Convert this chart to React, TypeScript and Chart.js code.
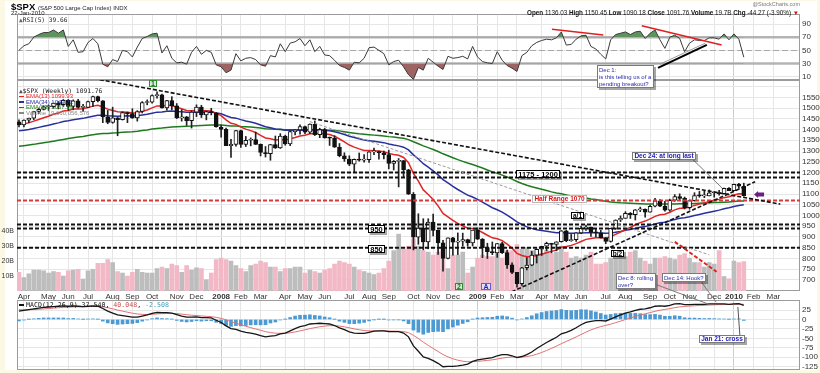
import React, { useEffect, useRef } from "react";
import { Chart, registerables } from "chart.js";

Chart.register(...registerables);

// ---------------- weekly data, 30-Mar-2007 .. 22-Jan-2010 (index 0..147) ----------------
const opens = [
  1436, 1421, 1444, 1453, 1484, 1494, 1506, 1506, 1523, 1516,
  1536, 1508, 1533, 1503, 1503, 1530, 1553, 1534, 1459, 1433,
  1454, 1446, 1479, 1474, 1454, 1484, 1526, 1527, 1558, 1562,
  1501, 1535, 1510, 1454, 1459, 1441, 1481, 1505, 1468, 1484,
  1478, 1412, 1401, 1325, 1331, 1395, 1331, 1350, 1353, 1331,
  1293, 1288, 1330, 1315, 1370, 1333, 1390, 1398, 1414, 1388,
  1425, 1376, 1400, 1361, 1360, 1318, 1278, 1263, 1239, 1261,
  1258, 1260, 1296, 1298, 1292, 1283, 1242, 1252, 1255, 1213,
  1099, 899, 941, 877, 969, 931, 873, 800, 896, 876,
  880, 888, 873, 932, 890, 850, 832, 826, 869, 827,
  770, 735, 683, 757, 769, 816, 843, 857, 870, 866,
  878, 929, 883, 887, 919, 940, 946, 921, 919, 896,
  879, 940, 979, 987, 1010, 1004, 1026, 1029, 1016, 1043,
  1068, 1044, 1025, 1071, 1088, 1080, 1036, 1069, 1093, 1091,
  1091, 1106, 1106, 1102, 1126, 1115, 1145, 1136.03,
];
const highs = [
  1445, 1445, 1453, 1485, 1499, 1510, 1514, 1523, 1530, 1540,
  1540, 1538, 1540, 1517, 1532, 1556, 1556, 1535, 1489, 1504,
  1456, 1483, 1481, 1497, 1488, 1530, 1538, 1561, 1576, 1565,
  1536, 1553, 1521, 1493, 1461, 1488, 1515, 1513, 1486, 1499,
  1479, 1421, 1407, 1355, 1396, 1397, 1368, 1361, 1388, 1333,
  1321, 1331, 1370, 1381, 1374, 1395, 1400, 1422, 1416, 1426,
  1440, 1406, 1406, 1365, 1371, 1335, 1292, 1278, 1263, 1291,
  1284, 1297, 1314, 1300, 1300, 1304, 1256, 1265, 1256, 1215,
  1107, 1008, 985, 985, 1007, 932, 885, 896, 899, 919,
  918, 890, 932, 943, 893, 871, 877, 870, 876, 839,
  780, 736, 759, 804, 833, 845, 857, 876, 871, 878,
  930, 931, 912, 920, 951, 956, 946, 936, 931, 898,
  941, 980, 998, 1018, 1014, 1028, 1039, 1031, 1049, 1080,
  1074, 1066, 1076, 1097, 1101, 1086, 1072, 1106, 1112, 1113,
  1119, 1110, 1117, 1128, 1130, 1146, 1150, 1150.45,
];
const lows = [
  1412, 1412, 1432, 1446, 1474, 1491, 1489, 1500, 1496, 1508,
  1490, 1492, 1500, 1484, 1502, 1506, 1529, 1432, 1427, 1429,
  1371, 1444, 1432, 1452, 1439, 1477, 1515, 1523, 1546, 1500,
  1490, 1492, 1451, 1439, 1419, 1407, 1460, 1456, 1445, 1468,
  1411, 1365, 1325, 1270, 1323, 1317, 1321, 1324, 1330, 1277,
  1272, 1257, 1312, 1312, 1327, 1325, 1375, 1379, 1381, 1381,
  1372, 1362, 1360, 1326, 1317, 1273, 1252, 1232, 1200, 1253,
  1248, 1247, 1283, 1262, 1263, 1217, 1212, 1133, 1180, 1098,
  840, 866, 840, 845, 905, 819, 741, 798, 816, 818,
  857, 857, 858, 888, 804, 800, 818, 805, 823, 754,
  729, 667, 675, 747, 766, 779, 814, 836, 826, 836,
  876, 878, 880, 879, 916, 931, 903, 900, 895, 869,
  876, 935, 972, 987, 986, 979, 1018, 992, 1016, 1040,
  1041, 1020, 1020, 1066, 1074, 1030, 1029, 1067, 1085, 1083,
  1091, 1085, 1095, 1099, 1115, 1115, 1127, 1090.18,
];
const closes = [
  1421, 1444, 1453, 1484, 1494, 1506, 1506, 1523, 1516, 1536,
  1508, 1533, 1503, 1503, 1530, 1553, 1534, 1459, 1433, 1454,
  1446, 1479, 1474, 1454, 1484, 1526, 1527, 1558, 1562, 1501,
  1535, 1510, 1454, 1459, 1441, 1481, 1505, 1468, 1484, 1478,
  1412, 1401, 1325, 1331, 1395, 1331, 1350, 1353, 1331, 1293,
  1288, 1330, 1315, 1370, 1333, 1390, 1398, 1414, 1388, 1425,
  1376, 1400, 1361, 1360, 1318, 1278, 1263, 1239, 1261, 1258,
  1260, 1296, 1298, 1292, 1283, 1242, 1252, 1255, 1213, 1099,
  899, 941, 877, 969, 931, 873, 800, 896, 876, 880,
  888, 873, 932, 890, 850, 832, 826, 869, 827, 770,
  735, 683, 757, 769, 816, 843, 857, 870, 866, 878,
  929, 883, 887, 919, 940, 946, 921, 919, 896, 879,
  940, 979, 987, 1010, 1004, 1026, 1029, 1016, 1043, 1068,
  1044, 1025, 1071, 1088, 1080, 1036, 1069, 1093, 1091, 1091,
  1106, 1106, 1102, 1126, 1115, 1145, 1136, 1091.76,
];
// weekly volume, billions of shares
const volumesB = [
  12.5, 9, 11.5, 14, 14, 13.5, 12, 13, 12.5, 10,
  13.5, 14, 14.5, 8, 13.5, 14.5, 18.5, 18.5, 21, 19,
  13, 12, 10, 12.5, 14.5, 12.5, 12, 12, 15, 16,
  15, 18, 17, 12.5, 17, 14, 15.5, 15, 7.5, 12,
  21, 22, 21, 20, 17, 15, 13, 17, 18, 20,
  19, 16, 16, 13, 15, 15, 16, 16, 12, 14,
  13, 12, 14, 15, 18, 20, 19, 18, 16, 14,
  13, 12, 11, 12, 15, 20, 27, 38, 28, 30,
  35, 30, 27, 26, 24, 26, 28, 15, 24, 24,
  26, 12, 16, 22, 24, 23, 23, 25, 22, 27,
  27, 31, 28, 29, 27, 25, 25, 27, 25, 26,
  30, 26, 22, 23, 22, 24, 26, 18, 18, 19,
  22, 22, 23, 23, 26, 27, 22, 20, 18, 22,
  22, 23, 22, 21, 24, 25, 22, 19, 19, 16,
  19, 18, 27, 9.7, 8.2, 20, 19, 19.66,
];
const ema13 = [
  1424, 1427, 1431, 1439, 1447, 1455, 1462, 1471, 1477, 1486,
  1489, 1495, 1496, 1497, 1502, 1509, 1513, 1505, 1495, 1489,
  1483, 1482, 1481, 1477, 1478, 1485, 1491, 1501, 1510, 1509,
  1513, 1512, 1504, 1497, 1489, 1488, 1490, 1487, 1487, 1486,
  1475, 1465, 1445, 1429, 1424, 1411, 1402, 1395, 1386, 1373,
  1361, 1357, 1351, 1354, 1351, 1357, 1363, 1370, 1373, 1380,
  1380, 1383, 1380, 1377, 1369, 1356, 1343, 1328, 1318, 1310,
  1303, 1302, 1301, 1300, 1297, 1289, 1284, 1280, 1270, 1246,
  1196, 1160, 1119, 1098, 1074, 1045, 1010, 994, 977, 963,
  952, 941, 940, 933, 921, 908, 896, 892, 883, 867,
  848, 824, 814, 808, 809, 814, 820, 827, 833, 839,
  852, 856, 861, 869, 879, 889, 893, 897, 897, 894,
  901, 912, 923, 935, 945, 957, 967, 974, 984, 996,
  1003, 1006, 1015, 1026, 1034, 1034, 1039, 1047, 1053, 1058,
  1065, 1071, 1075, 1083, 1087, 1095, 1101, 1099.93,
];
const ema34 = [
  1394, 1397, 1400, 1405, 1410, 1415, 1420, 1426, 1431, 1437,
  1441, 1446, 1449, 1452, 1457, 1462, 1466, 1466, 1464, 1463,
  1462, 1463, 1464, 1463, 1464, 1468, 1471, 1476, 1481, 1482,
  1485, 1486, 1484, 1483, 1481, 1481, 1482, 1481, 1481, 1481,
  1477, 1473, 1464, 1456, 1453, 1446, 1440, 1435, 1429, 1421,
  1413, 1408, 1403, 1401, 1397, 1397, 1397, 1398, 1397, 1399,
  1398, 1398, 1396, 1394, 1390, 1384, 1377, 1369, 1363, 1357,
  1351, 1348, 1345, 1342, 1339, 1333, 1328, 1324, 1318, 1305,
  1282, 1263, 1241, 1225, 1208, 1189, 1167, 1152, 1136, 1121,
  1108, 1095, 1086, 1075, 1062, 1049, 1036, 1027, 1016, 1002,
  987, 970, 958, 947, 940, 934, 930, 927, 923, 920,
  921, 919, 917, 917, 918, 920, 920, 920, 919, 917,
  918, 922, 926, 931, 935, 940, 945, 949, 954, 961,
  966, 969, 975, 981, 987, 990, 994, 1000, 1005, 1010,
  1015, 1020, 1025, 1031, 1036, 1042, 1047, 1049.71,
];
const ema89 = [
  1322, 1325, 1328, 1331, 1335, 1339, 1342, 1346, 1350, 1354,
  1358, 1362, 1365, 1368, 1372, 1376, 1379, 1381, 1382, 1384,
  1385, 1387, 1389, 1390, 1392, 1395, 1398, 1402, 1405, 1407,
  1410, 1412, 1413, 1414, 1415, 1416, 1418, 1419, 1420, 1421,
  1421, 1421, 1419, 1417, 1416, 1414, 1413, 1412, 1410, 1407,
  1404, 1403, 1401, 1400, 1399, 1399, 1399, 1399, 1399, 1400,
  1399, 1399, 1398, 1397, 1395, 1393, 1390, 1386, 1383, 1380,
  1378, 1376, 1374, 1372, 1370, 1367, 1365, 1362, 1359, 1353,
  1343, 1334, 1324, 1316, 1307, 1298, 1287, 1278, 1269, 1260,
  1252, 1244, 1237, 1229, 1221, 1212, 1203, 1196, 1188, 1179,
  1169, 1158, 1149, 1141, 1134, 1128, 1122, 1116, 1110, 1105,
  1101, 1096, 1091, 1087, 1084, 1081, 1077, 1074, 1070, 1066,
  1063, 1061, 1059, 1058, 1057, 1056, 1055, 1054, 1054, 1054,
  1054, 1053, 1053, 1054, 1055, 1055, 1055, 1056, 1057, 1058,
  1059, 1060, 1061, 1062, 1063, 1065, 1067, 1067.59,
];
const rsi5 = [
  50, 57, 60, 70, 74, 77, 77, 81, 76, 81,
  56, 66, 47, 48, 62, 68, 60, 29, 25, 36,
  33, 50, 48, 40, 55, 68, 71, 75, 76, 46,
  57, 38, 31, 32, 29, 47, 56, 44, 50, 47,
  28, 25, 16, 20, 45, 34, 38, 39, 36, 28,
  26, 42, 40, 60, 48, 61, 63, 68, 57, 66,
  48, 56, 43, 42, 35, 27, 24, 20, 32, 31,
  38, 54, 55, 50, 45, 28, 33, 35, 25, 13,
  6, 24, 20, 38, 32, 26, 21, 41, 38, 39,
  41, 37, 56, 40, 33, 31, 30, 48, 35, 27,
  23, 18, 42, 47, 57, 62, 65, 67, 66, 69,
  78, 58, 59, 67, 72, 73, 56, 52, 44, 37,
  66, 74, 76, 78, 74, 78, 79, 68, 76, 81,
  66, 53, 70, 73, 68, 48, 61, 66, 65, 65,
  69, 69, 67, 75, 66, 75, 67, 39.66,
];
const macdLine = [
  22, 24, 26, 28, 30, 32, 33, 34, 35, 36,
  35, 36, 35, 34, 35, 36, 35, 29, 22, 17,
  12, 10, 8, 6, 6, 9, 12, 16, 19, 18,
  18, 17, 13, 9, 6, 6, 7, 5, 5, 4,
  -2, -8, -17, -24, -26, -31, -34, -36, -39, -43,
  -46, -44, -43, -38, -36, -30, -24, -19, -16, -12,
  -11, -10, -11, -12, -16, -22, -27, -33, -36, -37,
  -37, -34, -31, -30, -30, -32, -32, -32, -36, -46,
  -70, -84, -99, -103, -109, -116, -125, -124, -124, -123,
  -121, -118, -111, -107, -105, -103, -101, -96, -93, -93,
  -96, -101, -98, -93, -86, -77, -69, -61, -54, -47,
  -38, -34, -29, -22, -14, -8, -5, -3, -3, -4,
  1, 7, 12, 17, 20, 24, 27, 28, 31, 35,
  36, 35, 37, 41, 42, 39, 39, 40, 40, 40,
  41, 41, 41, 41, 40, 41, 42, 37.54,
];
const macdSignal = [
  26, 25.6, 25.7, 26.2, 26.9, 28, 29, 30, 31, 32,
  32.6, 33.3, 33.6, 33.7, 34, 34.4, 34.5, 33.4, 31.1, 28.3,
  25, 22, 19.2, 16.6, 14.5, 13.4, 13.1, 13.7, 14.8, 15.4,
  15.9, 16.1, 15.5, 14.2, 12.6, 11.3, 10.4, 9.3, 8.4, 7.5,
  5.6, 2.9, -1.1, -5.7, -9.8, -14, -18, -21.6, -25.1, -28.7,
  -32.2, -34.6, -36.3, -36.6, -36.5, -35.2, -33, -30.2, -27.4, -24.3,
  -21.6, -19.3, -17.6, -16.5, -16.4, -17.5, -19.4, -22.1, -24.9, -27.3,
  -29.2, -30.2, -30.4, -30.3, -30.2, -30.6, -30.9, -31.1, -32.1, -34.9,
  -41.9, -50.3, -60, -68.6, -76.7, -84.6, -92.7, -99, -104, -107.8,
  -110.4, -111.9, -111.7, -110.8, -109.6, -108.3, -106.8, -104.6, -102.3, -100.4,
  -99.5, -99.8, -99.4, -98.1, -95.7, -92, -87.4, -82.1, -76.5, -70.6,
  -64.1, -58.1, -52.3, -46.2, -39.8, -33.4, -27.7, -22.8, -18.8, -15.8,
  -12.4, -8.5, -4.4, -0.1, 3.9, 7.9, 11.7, 15, 18.2, 21.6,
  24.5, 26.6, 28.7, 31.2, 33.4, 34.5, 35.4, 36.3, 37, 37.6,
  38.3, 38.8, 39.3, 39.6, 39.7, 40, 40.4, 40.05,
];
const macdHist = [
  -4, -1.6, 0.3, 1.8, 3.1, 4, 4, 4, 4, 4,
  2.4, 2.7, 1.4, 0.3, 1, 1.6, 0.5, -4.4, -9.1, -11.3,
  -13, -12, -11.2, -10.6, -8.5, -4.4, -1.1, 2.3, 4.2, 2.6,
  2.1, 0.9, -2.5, -5.2, -6.6, -5.3, -3.4, -4.3, -3.4, -3.5,
  -7.6, -10.9, -15.9, -18.3, -16.2, -17, -16, -14.4, -13.9, -14.3,
  -13.8, -9.4, -6.7, -1.4, 0.5, 5.2, 9, 11.2, 11.4, 12.3,
  10.6, 9.3, 6.6, 4.5, 0.4, -4.5, -7.6, -10.9, -11.1, -9.7,
  -7.8, -3.8, -0.6, 0.3, 0.2, -1.4, -1.1, -0.9, -3.9, -11.1,
  -28.1, -33.7, -39, -34.4, -32.3, -31.4, -32.3, -25, -20, -15.2,
  -10.6, -6.1, 0.7, 3.8, 4.6, 5.3, 5.8, 8.6, 9.3, 7.4,
  3.5, -1.2, 1.4, 5.1, 9.7, 15, 18.4, 21.1, 22.5, 23.6,
  26.1, 24.1, 23.3, 24.2, 25.8, 25.4, 22.7, 19.8, 15.8, 11.8,
  13.4, 15.5, 16.4, 17.1, 16.1, 16.1, 15.3, 13, 12.8, 13.4,
  11.5, 8.4, 8.3, 9.8, 8.6, 4.5, 3.6, 3.7, 3, 2.4,
  2.7, 2.2, 1.7, 1.4, 0.3, 1, 1.6, -2.51,
];
const monthTickIdx = [
  1, 6, 10, 14, 19, 23, 27, 32, 36,
  41, 45, 49, 54, 58, 62, 67, 71, 75, 80, 84, 88,
  93, 97, 101, 106, 110, 114, 119, 123, 128, 132, 136, 141,
  145, 149, 153,
];
const monthTickLabels = [
  "Apr", "May", "Jun", "Jul", "Aug", "Sep", "Oct", "Nov", "Dec",
  "2008", "Feb", "Mar", "Apr", "May", "Jun", "Jul", "Aug", "Sep", "Oct", "Nov", "Dec",
  "2009", "Feb", "Mar", "Apr", "May", "Jun", "Jul", "Aug", "Sep", "Oct", "Nov", "Dec",
  "2010", "Feb", "Mar",
];
const priceTicks = [700, 750, 800, 850, 900, 950, 1000, 1050, 1100, 1150, 1200, 1250, 1300, 1350, 1400, 1450, 1500, 1550, 1600];
const volumeTicks = [10, 20, 30, 40];
const rsiTicks = [10, 30, 50, 70, 90];
const macdTicks = [25, 0, -25, -50, -75, -100, -125];
const levelLines = [1200, 1177, 958, 940, 850];
const halfRangeLevel = [1070];
const rsiBands = [70, 30];
const rsiMid = [50];

// ---------------- annotations (data coordinates: week index, value) ----------------
const priceTrends = [
  { from: [14, 1642], to: [154.4, 1053], tone: "black" },
  { from: [59, 1437], to: [140, 817], tone: "gray" },
  { from: [133, 878], to: [141.5, 738], tone: "red" },
  { from: [95.5, 599], to: [149.3, 1157], tone: "black" },
];
const priceLeaders = [
  { from: [136.1, 1273], to: [142.6, 1128] },
  { from: [129.4, 677], to: [139.8, 588] },
  { from: [138.1, 700], to: [141.4, 597] },
];
const priceNotes = [
  { lines: ["1175 - 1200"], at: [105.2, 1195], kind: "level" },
  { lines: ["Half Range 1070"], at: [109.7, 1077], kind: "red" },
  { lines: ["950"], at: [72.5, 939], kind: "level" },
  { lines: ["850"], at: [72.5, 846], kind: "level" },
  { lines: ["a/1"], at: [113.2, 1002], kind: "small" },
  { lines: ["b/2"], at: [121.3, 823], kind: "small" },
  { lines: ["1"], at: [27.2, 1614], kind: "green" },
  { lines: ["2"], at: [89.2, 670], kind: "green" },
  { lines: ["A"], at: [94.8, 670], kind: "blue" },
  { lines: ["Dec 24: at long last"], at: [130.8, 1277], kind: "call" },
  { lines: ["Dec 8: rolling", "over?"], at: [125.2, 697], kind: "note" },
  { lines: ["Dec 14: Hook?"], at: [134.9, 713], kind: "note" },
  { lines: ["Dec 1:", "is this telling us of a", "pending breakout?"], at: [123.1, 1649], kind: "note" },
];
const arrowAt = [150.1, 1098];
const rsiTrends = [
  { from: [108.1, 82], to: [118.5, 73.3], color: "#e02020", width: 1.6 },
  { from: [126.3, 87.4], to: [142.5, 58.2], color: "#e02020", width: 1.6 },
  { from: [130, 29], to: [139.2, 61], color: "#9a9a9a", width: 1 },
  { from: [129.6, 23.3], to: [139.5, 58.2], color: "#000", width: 2 },
];
const macdNote = { lines: ["Jan 21: cross"], at: [142.5, -51], leaderFrom: [146.2, -41], leaderTo: [145.8, 33] };

// ---------------- layout ----------------
const W = 820;
const H = 373;
const LEFT = 17;
const RIGHT_AXIS = 20;
const RSI_TOP = 14;
const RSI_BOTTOM = 80;
const PRICE_TOP = 80;
const PRICE_BOTTOM = 291;
const XLABEL_H = 9;
const MACD_TOP = 300;
const MACD_BOTTOM = 370;
const X_MIN = -0.4;
const X_MAX = 158.4;
const SANS = '"Liberation Sans", Arial, Helvetica, sans-serif';
const MONO = '"DejaVu Sans Mono", "Liberation Mono", monospace';
const PINK = "#f2b8c5";
const GRAY = "#bdbdbd";

const yearIdx = new Set(monthTickIdx.filter((_, k) => /^\d{4}$/.test(monthTickLabels[k])));
const pts = (arr: number[]) => arr.map((v, i) => ({ x: i, y: v }));

const fixW = (w: number) => (s: any) => {
  s.width = w;
  s.paddingTop = 0;
  s.paddingBottom = 0;
};
const fixH = (h: number) => (s: any) => {
  s.height = h;
  s.paddingLeft = 0;
  s.paddingRight = 0;
};

function xScale(showLabels: boolean) {
  return {
    type: "linear",
    min: X_MIN,
    max: X_MAX,
    offset: false,
    afterBuildTicks: (s: any) => {
      s.ticks = monthTickIdx.map((v) => ({ value: v }));
    },
    ticks: {
      display: showLabels,
      autoSkip: false,
      maxRotation: 0,
      padding: 1,
      color: "#333",
      font: (c: any) => ({ size: 8, family: SANS, weight: c.tick && yearIdx.has(c.tick.value) ? "bold" : "normal" }),
      callback: (_v: any, k: number) => monthTickLabels[k],
    },
    grid: {
      offset: false,
      drawTicks: false,
      color: (c: any) => (c.tick && yearIdx.has(c.tick.value) ? "#cdcdcd" : "#e6e6e6"),
    },
    border: { display: false },
    afterFit: fixH(showLabels ? XLABEL_H : 0),
  };
}

function yRight(min: number, max: number, ticks: number[], label?: (v: number) => string) {
  return {
    type: "linear",
    position: "right",
    min,
    max,
    afterBuildTicks: (s: any) => {
      s.ticks = ticks.map((v) => ({ value: v }));
    },
    ticks: {
      autoSkip: false,
      padding: 2,
      color: "#333",
      font: { size: 8, family: SANS },
      callback: (v: number) => (label ? label(v) : String(v)),
    },
    grid: { drawTicks: false, color: "#e6e6e6" },
    border: { display: false },
    afterFit: fixW(RIGHT_AXIS),
  };
}

function frame(chart: any) {
  const { ctx, chartArea: a } = chart;
  ctx.save();
  ctx.strokeStyle = "#9c9c9c";
  ctx.lineWidth = 1;
  ctx.strokeRect(a.left + 0.5, a.top + 0.5, a.right - a.left - 1, a.bottom - a.top - 1);
  ctx.restore();
}

function seg(ctx: any, x1: number, y1: number, x2: number, y2: number, color: string, width: number, dash: number[]) {
  ctx.save();
  ctx.strokeStyle = color;
  ctx.lineWidth = width;
  ctx.setLineDash(dash);
  ctx.beginPath();
  ctx.moveTo(x1, y1);
  ctx.lineTo(x2, y2);
  ctx.stroke();
  ctx.restore();
}

const boxStyles: any = {
  level: { font: `bold 7.5px ${SANS}`, color: "#000", bg: "#fff", border: "#000", shadow: true, lh: 8, padX: 2, padY: 0, align: "center" },
  small: { font: `bold 6.5px ${SANS}`, color: "#000", bg: "#fff", border: "#000", shadow: true, lh: 7, padX: 1.5, padY: 0, align: "center" },
  red: { font: `bold 6.5px ${SANS}`, color: "#d41a1a", bg: "#fff", border: "#b8b8b8", shadow: false, lh: 8, padX: 2, padY: 0, align: "center" },
  green: { font: `bold 7px ${SANS}`, color: "#1d6f1d", bg: "#d6ecd6", border: "#2e8b2e", shadow: false, lh: 7, padX: 2, padY: 0, align: "center" },
  blue: { font: `bold 7px ${SANS}`, color: "#1f1fb8", bg: "#e2e2f6", border: "#6060d0", shadow: false, lh: 7, padX: 2, padY: 0, align: "center" },
  call: { font: `bold 6.5px ${SANS}`, color: "#1a1ab4", bg: "#fff", border: "#7a7a7a", shadow: true, lh: 8, padX: 2, padY: 0, align: "center" },
  note: { font: `6px ${SANS}`, color: "#2a2aa8", bg: "#fff", border: "#7a7a7a", shadow: true, lh: 7, padX: 2, padY: 1, align: "left" },
};

function drawBox(ctx: any, cx: number, cy: number, lines: string[], st: any) {
  ctx.save();
  ctx.font = st.font;
  const tw = Math.max(...lines.map((l) => ctx.measureText(l).width));
  const w = Math.ceil(tw + st.padX * 2);
  const h = Math.ceil(lines.length * st.lh + st.padY * 2);
  const x = Math.round(cx - w / 2);
  const y = Math.round(cy - h / 2);
  if (st.shadow) {
    ctx.fillStyle = "rgba(0,0,0,0.35)";
    ctx.fillRect(x + 2, y + 2, w, h);
  }
  ctx.fillStyle = st.bg;
  ctx.fillRect(x, y, w, h);
  ctx.strokeStyle = st.border;
  ctx.lineWidth = 1;
  ctx.strokeRect(x + 0.5, y + 0.5, w - 1, h - 1);
  ctx.fillStyle = st.color;
  ctx.textBaseline = "middle";
  ctx.textAlign = st.align;
  lines.forEach((l, k) => {
    ctx.fillText(l, st.align === "left" ? x + st.padX : x + w / 2, y + st.padY + st.lh * (k + 0.5) + 0.5);
  });
  ctx.restore();
}

const common = (padding: any) => ({
  animation: false,
  responsive: false,
  events: [],
  layout: { padding },
  plugins: { legend: { display: false }, tooltip: { enabled: false } },
});

function rsiConfig(): any {
  return {
    type: "line",
    data: {
      datasets: [
        {
          data: pts(rsi5),
          borderColor: "#3a3a3a",
          borderWidth: 1,
          pointRadius: 0,
          fill: { target: { value: 70 }, above: "#5e935e", below: "rgba(0,0,0,0)" },
          order: 1,
        },
        {
          data: pts(rsi5),
          borderColor: "rgba(0,0,0,0)",
          borderWidth: 0,
          pointRadius: 0,
          fill: { target: { value: 30 }, above: "rgba(0,0,0,0)", below: "#9e6363" },
          order: 2,
        },
      ],
    },
    options: {
      ...common({ left: LEFT, right: 0, top: RSI_TOP, bottom: H - RSI_BOTTOM }),
      scales: { x: xScale(false), y: yRight(5, 105.2, rsiTicks) },
    },
    plugins: [
      {
        id: "rsiDecor",
        beforeDatasetsDraw(chart: any) {
          const { ctx, chartArea: a, scales } = chart;
          rsiBands.forEach((v) => {
            const y = scales.y.getPixelForValue(v);
            seg(ctx, a.left, y, a.right, y, "#b4b4b4", 2.5, []);
          });
          rsiMid.forEach((v) => {
            const y = Math.round(scales.y.getPixelForValue(v)) + 0.5;
            seg(ctx, a.left, y, a.right, y, "#a8a8a8", 1, [6, 3]);
          });
          frame(chart);
        },
        afterDatasetsDraw(chart: any) {
          const { ctx, chartArea: a, scales } = chart;
          ctx.save();
          ctx.beginPath();
          ctx.rect(a.left, a.top, a.right - a.left, a.bottom - a.top);
          ctx.clip();
          rsiTrends.forEach((t) => {
            seg(
              ctx,
              scales.x.getPixelForValue(t.from[0]),
              scales.y.getPixelForValue(t.from[1]),
              scales.x.getPixelForValue(t.to[0]),
              scales.y.getPixelForValue(t.to[1]),
              t.color,
              t.width,
              []
            );
          });
          ctx.restore();
        },
      },
    ],
  };
}

function priceConfig(): any {
  return {
    type: "bar",
    data: {
      datasets: [
        {
          type: "bar",
          label: "Volume",
          yAxisID: "vol",
          data: pts(volumesB),
          backgroundColor: closes.map((c, i) => (c < opens[i] ? PINK : GRAY)),
          barThickness: 4,
          grouped: false,
          order: 9,
        },
        { type: "line", label: "EMA(89)", data: pts(ema89), borderColor: "#1f7a1f", borderWidth: 1.5, pointRadius: 0, order: 6 },
        { type: "line", label: "EMA(34)", data: pts(ema34), borderColor: "#28309c", borderWidth: 1.5, pointRadius: 0, order: 5 },
        { type: "line", label: "EMA(13)", data: pts(ema13), borderColor: "#e02626", borderWidth: 1.5, pointRadius: 0, order: 4 },
        {
          type: "bar",
          label: "range",
          data: lows.map((l, i) => ({ x: i, y: [l, highs[i]] })),
          backgroundColor: "#222",
          barThickness: 1,
          grouped: false,
          order: 2,
        },
        {
          type: "bar",
          label: "body",
          data: opens.map((o, i) => ({ x: i, y: [o, closes[i]] })),
          backgroundColor: closes.map((c, i) => (c >= opens[i] ? "#ffffff" : "#111111")),
          borderColor: "#111",
          borderWidth: 1,
          borderSkipped: false,
          minBarLength: 1,
          barThickness: 4,
          grouped: false,
          order: 1,
        },
      ],
    },
    options: {
      ...common({ left: 0, right: 0, top: PRICE_TOP, bottom: H - PRICE_BOTTOM - XLABEL_H }),
      scales: {
        x: xScale(true),
        y: yRight(648.7, 1630.5, priceTicks, (v) => (v <= 1550 ? String(v) : "")),
        vol: {
          type: "linear",
          position: "left",
          min: 0,
          max: 141,
          afterBuildTicks: (s: any) => {
            s.ticks = volumeTicks.map((v) => ({ value: v }));
          },
          ticks: { autoSkip: false, padding: 3, color: "#333", font: { size: 7, family: SANS }, callback: (v: number) => v + "B" },
          grid: { drawOnChartArea: false, drawTicks: false },
          border: { display: false },
          afterFit: fixW(LEFT),
        },
      },
    },
    plugins: [
      {
        id: "priceDecor",
        beforeDatasetsDraw(chart: any) {
          frame(chart);
        },
        afterDatasetsDraw(chart: any) {
          const { ctx, chartArea: a, scales } = chart;
          const X = (i: number) => scales.x.getPixelForValue(i);
          const Y = (v: number) => scales.y.getPixelForValue(v);
          ctx.save();
          ctx.beginPath();
          ctx.rect(a.left, a.top, a.right - a.left, a.bottom - a.top);
          ctx.clip();
          levelLines.forEach((v) => seg(ctx, a.left, Y(v), a.right, Y(v), "#111", 2, [4, 2]));
          halfRangeLevel.forEach((v) => seg(ctx, a.left, Y(v), a.right, Y(v), "#d33a3a", 2, [4, 2]));
          priceTrends.forEach((t) => {
            const st =
              t.tone === "gray"
                ? { c: "#9a9a9a", w: 1, d: [3, 2] }
                : t.tone === "red"
                ? { c: "#e02020", w: 2, d: [4, 2] }
                : { c: "#111", w: 1.6, d: [4, 2] };
            seg(ctx, X(t.from[0]), Y(t.from[1]), X(t.to[0]), Y(t.to[1]), st.c, st.w, st.d);
          });
          const ax = X(arrowAt[0]);
          const ay = Y(arrowAt[1]);
          ctx.fillStyle = "#6c1f82";
          ctx.beginPath();
          ctx.moveTo(ax - 5, ay);
          ctx.lineTo(ax - 1, ay - 3.5);
          ctx.lineTo(ax - 1, ay - 2);
          ctx.lineTo(ax + 5, ay - 2);
          ctx.lineTo(ax + 5, ay + 2);
          ctx.lineTo(ax - 1, ay + 2);
          ctx.lineTo(ax - 1, ay + 3.5);
          ctx.closePath();
          ctx.fill();
          ctx.restore();
          priceLeaders.forEach((l) => seg(ctx, X(l.from[0]), Y(l.from[1]), X(l.to[0]), Y(l.to[1]), "#7a7a7a", 1, []));
          priceNotes.forEach((n) => drawBox(ctx, X(n.at[0]), Y(n.at[1]), n.lines, boxStyles[n.kind]));
        },
      },
    ],
  };
}

function macdConfig(): any {
  return {
    type: "bar",
    data: {
      datasets: [
        { type: "bar", label: "Hist", data: pts(macdHist), backgroundColor: "#4d9ad2", barThickness: 3, grouped: false, order: 3 },
        { type: "line", label: "Signal", data: pts(macdSignal), borderColor: "#e07272", borderWidth: 1, pointRadius: 0, order: 2 },
        { type: "line", label: "MACD", data: pts(macdLine), borderColor: "#151515", borderWidth: 1.3, pointRadius: 0, order: 1 },
      ],
    },
    options: {
      ...common({ left: LEFT, right: 0, top: MACD_TOP, bottom: H - MACD_BOTTOM }),
      scales: { x: xScale(false), y: yRight(-133.7, 51.5, macdTicks) },
    },
    plugins: [
      {
        id: "macdDecor",
        beforeDatasetsDraw(chart: any) {
          frame(chart);
        },
        afterDatasetsDraw(chart: any) {
          const { ctx, scales } = chart;
          const X = (i: number) => scales.x.getPixelForValue(i);
          const Y = (v: number) => scales.y.getPixelForValue(v);
          seg(ctx, X(macdNote.leaderFrom[0]), Y(macdNote.leaderFrom[1]), X(macdNote.leaderTo[0]), Y(macdNote.leaderTo[1]), "#555", 1, []);
          drawBox(ctx, X(macdNote.at[0]), Y(macdNote.at[1]), macdNote.lines, boxStyles.call);
        },
      },
    ],
  };
}

const abs = (s: any): any => ({ position: "absolute", whiteSpace: "nowrap", lineHeight: 1, ...s });

export default function App() {
  const rsiRef = useRef<HTMLCanvasElement>(null);
  const priceRef = useRef<HTMLCanvasElement>(null);
  const macdRef = useRef<HTMLCanvasElement>(null);

  useEffect(() => {
    const charts = [
      new Chart(rsiRef.current as HTMLCanvasElement, rsiConfig()),
      new Chart(macdRef.current as HTMLCanvasElement, macdConfig()),
      new Chart(priceRef.current as HTMLCanvasElement, priceConfig()),
    ];
    return () => charts.forEach((c) => c.destroy());
  }, []);

  const canvasStyle: any = { position: "absolute", left: 0, top: 0, width: W, height: H };
  const legendRow = (top: number, color: string, text: string) => (
    <div style={abs({ left: 19, top, font: `6px ${SANS}`, color })}>
      <span style={{ display: "inline-block", width: 5, height: 1.5, background: color, verticalAlign: "middle", marginRight: 2 }} />
      {text}
    </div>
  );

  return (
    <div style={{ position: "fixed", left: 0, top: 0, width: W, height: H, background: "#fbf9e3", overflow: "hidden" }}>
      <div style={{ position: "absolute", left: 5, top: 1, width: W - 8, height: H - 4, background: "#ffffff" }} />
      <canvas ref={rsiRef} width={W} height={H} style={canvasStyle} />
      <canvas ref={macdRef} width={W} height={H} style={canvasStyle} />
      <canvas ref={priceRef} width={W} height={H} style={canvasStyle} />

      <div style={abs({ left: 11, top: 1, font: `bold 9.5px ${SANS}`, color: "#000" })}>
        $SPX <span style={{ font: `6px ${SANS}`, color: "#222" }}>(S&amp;P 500 Large Cap Index) INDX</span>
      </div>
      <div style={abs({ left: 11, top: 10, font: `6px ${SANS}`, color: "#222" })}>22-Jan-2010</div>
      <div style={abs({ right: 20, top: 1, font: `5.5px ${SANS}`, color: "#777" })}>@StockCharts.com</div>
      <div style={abs({ right: 21, top: 9, font: `6.3px ${SANS}`, color: "#111" })}>
        <b>Open</b> 1136.03 <b>High</b> 1150.45 <b>Low</b> 1090.18 <b>Close</b> 1091.76 <b>Volume</b> 19.7B <b>Chg</b> -44.27 (-3.90%){" "}
        <span style={{ color: "#d01010" }}>▼</span>
      </div>
      <div style={abs({ left: 19, top: 16, font: `6.2px ${MONO}`, color: "#222" })}>
        <span style={{ color: "#666" }}>▲</span>RSI(5) 39.66
      </div>

      <div style={abs({ left: 19, top: 87, font: `6.3px ${MONO}`, color: "#111" })}>
        <span style={{ color: "#555" }}>▲</span>$SPX (Weekly) 1091.76
      </div>
      {legendRow(93, "#e02626", "EMA(13) 1099.93")}
      {legendRow(98.5, "#28309c", "EMA(34) 1049.71")}
      {legendRow(104, "#1f7a1f", "EMA(89) 1067.59")}
      {legendRow(109.5, "#888", "Volume 19,660,056,576")}

      <div style={abs({ left: 19, top: 301, font: `6.6px ${MONO}`, color: "#111" })}>
        <span style={{ display: "inline-block", width: 5, height: 1.5, background: "#111", verticalAlign: "middle", marginRight: 2 }} />
        MACD(12,26,9) 37.540, <span style={{ color: "#d04848" }}>40.048</span>, <span style={{ color: "#3aa0b8" }}>-2.508</span>
      </div>
    </div>
  );
}
